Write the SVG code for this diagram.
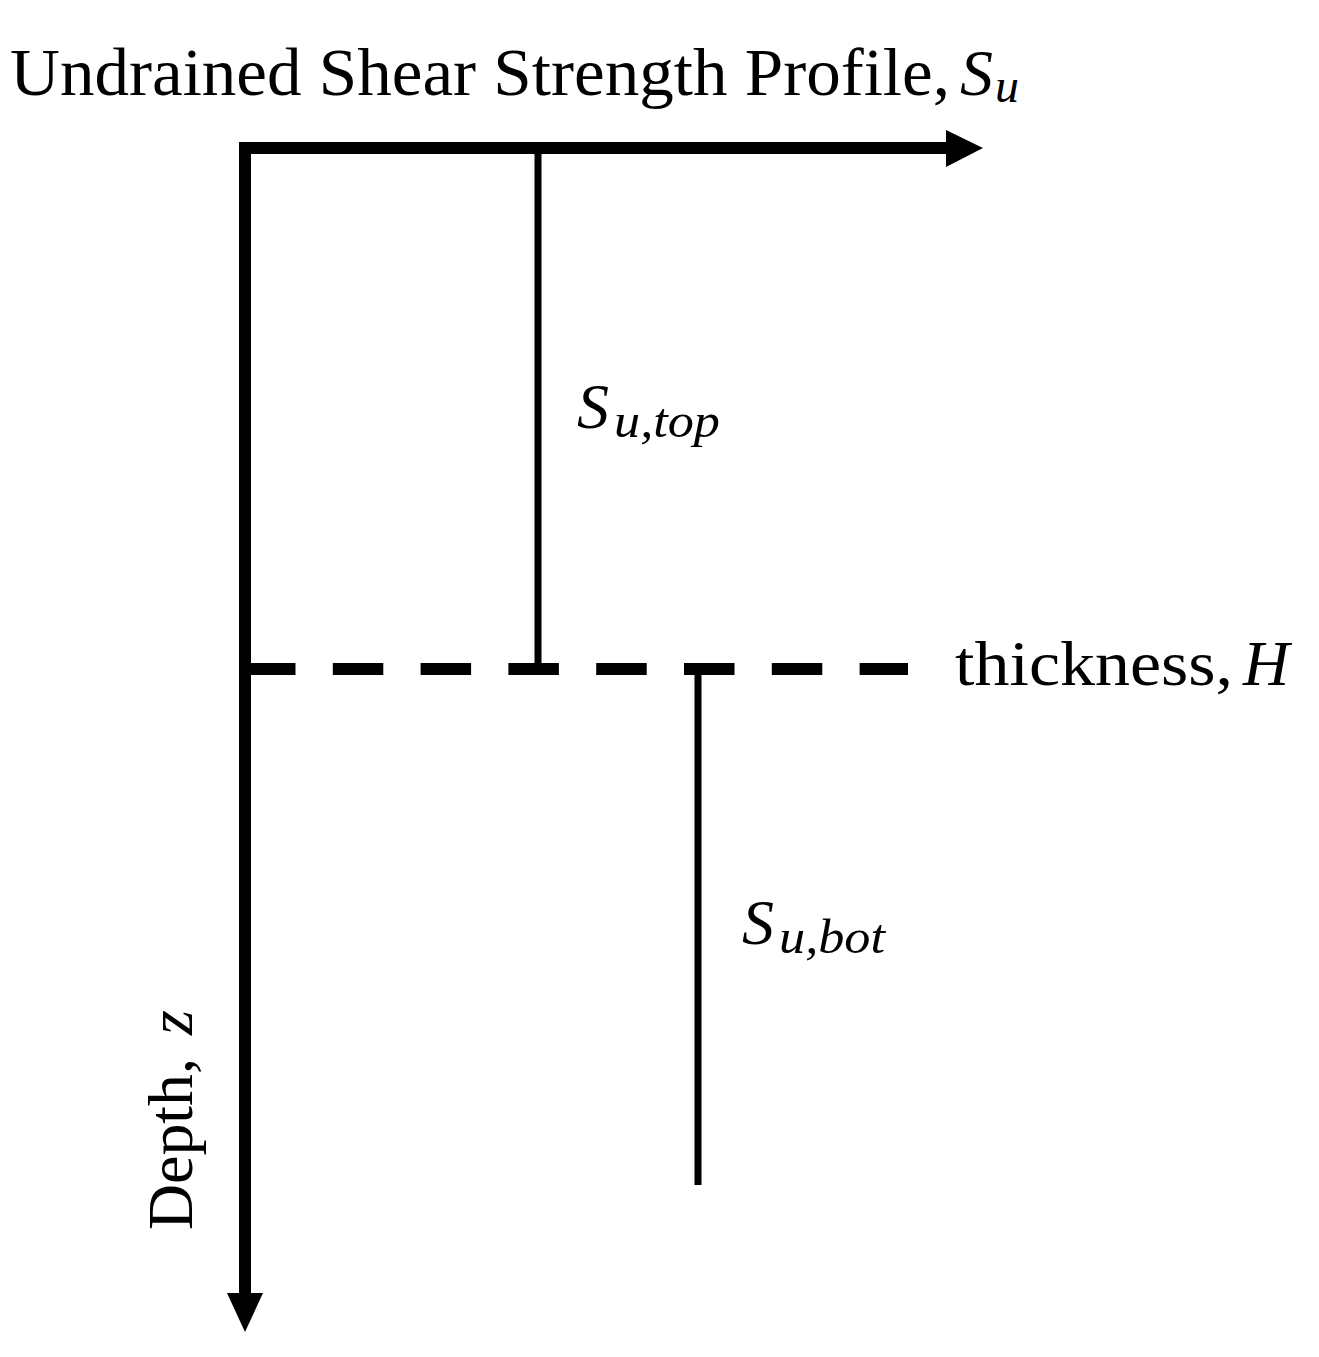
<svg xmlns="http://www.w3.org/2000/svg" width="1319" height="1357" viewBox="0 0 1319 1357">
<style>
.t{font-family:"Liberation Serif","DejaVu Serif",serif;fill:#000}
.i{font-style:italic}
.ax{stroke:#000;stroke-width:12;fill:none}
.ln{stroke:#000;stroke-width:7;fill:none}
</style>
<rect width="1319" height="1357" fill="#fff"/>
<g id="connectors">
<line class="ax" x1="245" y1="148" x2="950" y2="148"/>
<polygon points="946,130 983,148 946,167" fill="#000"/>
<line class="ax" x1="245" y1="142" x2="245" y2="1296"/>
<polygon points="227,1293 263,1293 245,1332" fill="#000"/>
<line class="ax" x1="245" y1="669" x2="908" y2="669" stroke-dasharray="50.5 37.3"/>
<line class="ln" x1="538" y1="154" x2="538" y2="669"/>
<line class="ln" x1="698" y1="669" x2="698" y2="1185"/>
</g>
<g id="title">
<text class="t" x="10" y="95" font-size="68" textLength="940" lengthAdjust="spacingAndGlyphs">Undrained Shear Strength Profile,</text>
<text class="t i" x="960" y="95" font-size="66">S</text>
<text class="t i" x="995" y="102" font-size="48">u</text>
</g>
<g id="thickness">
<text class="t" x="955" y="685" font-size="64" textLength="278" lengthAdjust="spacingAndGlyphs">thickness,</text>
<text class="t i" x="1243" y="685" font-size="64">H</text>
</g>
<g id="depth">
<text class="t" transform="translate(192,1230) rotate(-90)" font-size="64" textLength="172" lengthAdjust="spacingAndGlyphs">Depth,</text>
<text class="t i" transform="translate(192,1035) rotate(-90)" font-size="64">z</text>
</g>
<g id="su-top">
<text class="t i" x="577" y="428" font-size="64">S</text>
<text class="t i" x="614" y="437" font-size="48" textLength="106" lengthAdjust="spacingAndGlyphs">u,top</text>
</g>
<g id="su-bot">
<text class="t i" x="742" y="944" font-size="64">S</text>
<text class="t i" x="779" y="953" font-size="48" textLength="106" lengthAdjust="spacingAndGlyphs">u,bot</text>
</g>
</svg>
